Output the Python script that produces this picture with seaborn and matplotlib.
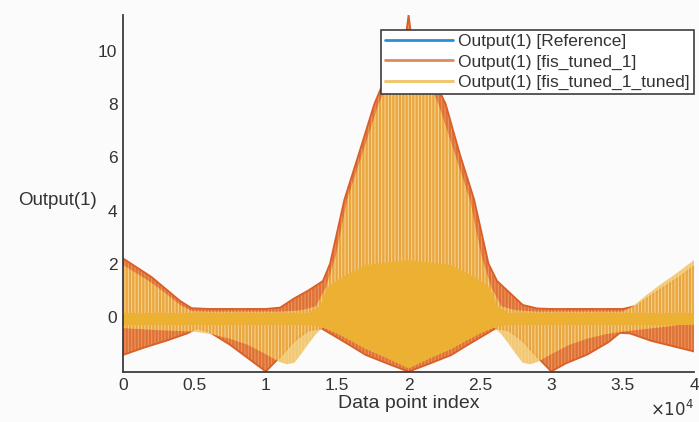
import numpy as np
import pandas as pd
import matplotlib
matplotlib.use("Agg")
import matplotlib.pyplot as plt
from matplotlib.lines import Line2D
import seaborn as sns

# Series names
names = ["Output(1) [Reference]", "Output(1) [fis_tuned_1]", "Output(1) [fis_tuned_1_tuned]"]

# Envelopes of each dense output trace; positions in units of 1e4 data points
ref_idx = [0, 1.0, 2.0, 3.0, 4.0]
ref_hi = [0.1, 0.1, 0.1, 0.1, 0.1]
ref_lo = [-0.2, -0.2, -0.2, -0.2, -0.2]

t1_hi_idx = [0, 0.1, 0.2, 0.3, 0.4, 0.48, 0.6, 0.8, 1.0, 1.1, 1.2, 1.3, 1.4, 1.45, 1.5, 1.55,
             1.65, 1.76, 1.9, 1.987, 2.0, 2.013, 2.1, 2.26, 2.36, 2.46, 2.51, 2.56, 2.62,
             2.7, 2.8, 2.9, 3.0, 3.25, 3.5, 3.6, 3.7, 3.8, 3.9, 4.0]
t1_hi = [2.2, 1.85, 1.5, 1.05, 0.6, 0.33, 0.3, 0.3, 0.3, 0.35, 0.7, 1.0, 1.35, 2.0, 3.2, 4.4,
         6.1, 8.0, 9.8, 10.8, 11.35, 10.8, 9.8, 8.0, 6.1, 4.4, 3.2, 2.0, 1.35,
         0.95, 0.45, 0.32, 0.3, 0.3, 0.3, 0.42, 0.8, 1.15, 1.5, 1.9]
t1_lo_idx = [0, 0.15, 0.3, 0.45, 0.52, 0.6, 0.75, 0.9, 1.0, 1.1, 1.2, 1.3, 1.39, 1.5, 1.6, 1.7,
             1.85, 2.0, 2.15, 2.3, 2.4, 2.5, 2.61, 2.7, 2.8, 2.9, 3.0, 3.1, 3.25, 3.4,
             3.48, 3.55, 3.7, 3.85, 4.0]
t1_lo = [-1.43, -1.15, -0.9, -0.62, -0.42, -0.55, -1.05, -1.65, -2.05, -1.5, -0.9, -0.5, -0.43,
         -0.78, -1.1, -1.43, -1.75, -2.06, -1.75, -1.43, -1.1, -0.78, -0.43, -0.5, -0.9,
         -1.5, -2.05, -1.75, -1.42, -0.95, -0.6, -0.62, -0.9, -1.1, -1.3]

t2_hi_idx = [0, 0.1, 0.2, 0.3, 0.4, 0.48, 0.6, 1.1, 1.25, 1.35, 1.42, 1.49, 1.57, 1.79, 1.99,
             2.0, 2.01, 2.21, 2.43, 2.51, 2.58, 2.65, 2.75, 2.9, 3.5, 3.57, 3.65, 3.76, 3.88, 4.0]
t2_hi = [1.95, 1.62, 1.28, 0.88, 0.45, 0.22, 0.2, 0.2, 0.25, 0.4, 1.1, 2.3, 4.4, 8.0, 10.4,
         10.6, 10.4, 8.0, 4.4, 2.3, 1.1, 0.4, 0.25, 0.2, 0.2, 0.39, 0.75, 1.2, 1.65, 2.14]
t2_lo_idx = [0, 0.25, 0.5, 0.62, 0.75, 0.875, 1.0, 1.1, 1.15, 1.2, 1.24, 1.3, 1.35, 1.4, 1.5,
             1.6, 1.7, 1.85, 2.0, 2.15, 2.3, 2.4, 2.5, 2.6, 2.65, 2.7, 2.76, 2.8, 2.85, 2.9,
             3.0, 3.125, 3.25, 3.38, 3.5, 3.75, 4.0]
t2_lo = [-0.42, -0.5, -0.55, -0.65, -0.82, -1.05, -1.4, -1.7, -1.78, -1.72, -1.45, -1.0, -0.65,
         -0.39, -0.62, -0.9, -1.2, -1.55, -1.93, -1.55, -1.2, -0.9, -0.62, -0.39, -0.65,
         -1.0, -1.45, -1.72, -1.78, -1.7, -1.4, -1.05, -0.82, -0.65, -0.55, -0.4, -0.24]

# Densely sampled core of the tuned trace
core_hi_idx = [0, 1.3, 1.38, 1.43, 1.52, 1.7, 2.0, 2.3, 2.48, 2.57, 2.62, 2.7, 4.0]
core_hi = [0.15, 0.15, 0.4, 1.1, 1.45, 1.95, 2.14, 1.95, 1.45, 1.1, 0.4, 0.15, 0.15]
core_lo_idx = [0, 1.3, 1.4, 1.5, 1.6, 1.7, 1.85, 2.0, 2.15, 2.3, 2.4, 2.5, 2.6, 2.7, 4.0]
core_lo = [-0.3, -0.3, -0.39, -0.62, -0.9, -1.2, -1.55, -1.93, -1.55, -1.2, -0.9, -0.62,
           -0.39, -0.3, -0.3]

x_ticks = [0, 0.5, 1, 1.5, 2, 2.5, 3, 3.5, 4]
y_ticks = [0, 2, 4, 6, 8, 10]

SCALE = 1e4
BLUE = "#0072BD"

sns.set_style("white")
plt.rcParams["font.family"] = ["Liberation Sans", "DejaVu Sans"]
plt.rcParams["hatch.linewidth"] = 0.7

bg = "#fbfbfc"
fig = plt.figure(figsize=(6.99, 4.22), dpi=100, facecolor=bg)
ax = fig.add_axes([0.176, 0.1185, 0.817, 0.846], facecolor=bg)


def band(hi_idx, hi, lo_idx, lo, face, stripe=None, alpha=1.0, z=1):
    xs = np.concatenate([np.asarray(hi_idx), np.asarray(lo_idx)[::-1]]) * SCALE
    ys = np.concatenate([np.asarray(hi), np.asarray(lo)[::-1]])
    ax.fill(xs, ys, color=face, alpha=alpha, lw=0, zorder=z)
    if stripe is not None:
        ax.fill(xs, ys, facecolor="none", edgecolor=stripe, hatch="|||||", lw=0, zorder=z + 0.1)


def edge(idx, vals, color, lw, z):
    df = pd.DataFrame({"idx": np.asarray(idx) * SCALE, "val": vals})
    sns.lineplot(data=df, x="idx", y="val", color=color, lw=lw, ax=ax, zorder=z,
                 legend=False, sort=False)


# Reference trace (underneath the others)
band(ref_idx, ref_hi, ref_idx, ref_lo, BLUE, z=1)

# fis_tuned_1
band(t1_hi_idx, t1_hi, t1_lo_idx, t1_lo, "#DF7134", stripe="#EC9A68", z=2)
edge(t1_hi_idx, t1_hi, "#D95F26", 1.3, 2.5)
edge(t1_lo_idx, t1_lo, "#D95F26", 1.3, 2.5)

# fis_tuned_1_tuned
band(t2_hi_idx, t2_hi, t2_lo_idx, t2_lo, "#EFB843", stripe="#F6D592", alpha=0.74, z=3)
band(core_hi_idx, core_hi, core_lo_idx, core_lo, "#ECB132", z=4)

ax.set_xlim(0, 4 * SCALE)
ax.set_ylim(-2.07, 11.35)
ax.set_xticks([v * SCALE for v in x_ticks])
ax.set_xticklabels([f"{v:g}" for v in x_ticks])
ax.set_yticks(y_ticks)
ax.set_yticklabels([str(v) for v in y_ticks])

for s in ["top", "right"]:
    ax.spines[s].set_visible(False)
for s in ["left", "bottom"]:
    ax.spines[s].set_color("#3d3d3d")
    ax.spines[s].set_linewidth(1.3)
    ax.spines[s].set_zorder(10)

ax.tick_params(direction="in", length=4, width=1.1, color="#3d3d3d", labelsize=12.5,
               labelcolor="#333333", pad=4)

ax.set_xlabel("Data point index", fontsize=14, color="#333333", labelpad=2)
ax.set_ylabel("Output(1)", fontsize=13.5, color="#333333", rotation=0, ha="right", va="center")
ax.yaxis.set_label_coords(-0.045, 0.48)
ax.text(1.0, -0.075, r"$\times10^{4}$", transform=ax.transAxes, ha="right", va="top",
        fontsize=12, color="#333333")

handles = [Line2D([], [], color="#2C8FD4", lw=2),
           Line2D([], [], color="#DE8A5A", lw=2),
           Line2D([], [], color="#F0C874", lw=2.2)]
leg = ax.legend(handles, names, loc="upper right", bbox_to_anchor=(1.0, 0.958),
                fontsize=12.5, frameon=True, fancybox=False, framealpha=1,
                edgecolor="#3d3d3d", handlelength=3.9, handletextpad=0.3,
                labelspacing=0.28, borderpad=0.25, borderaxespad=0.0)
leg.get_frame().set_linewidth(1.2)
leg.set_zorder(20)
for t in leg.get_texts():
    t.set_color("#333333")

fig.savefig("out.png", dpi=100, facecolor=bg)
